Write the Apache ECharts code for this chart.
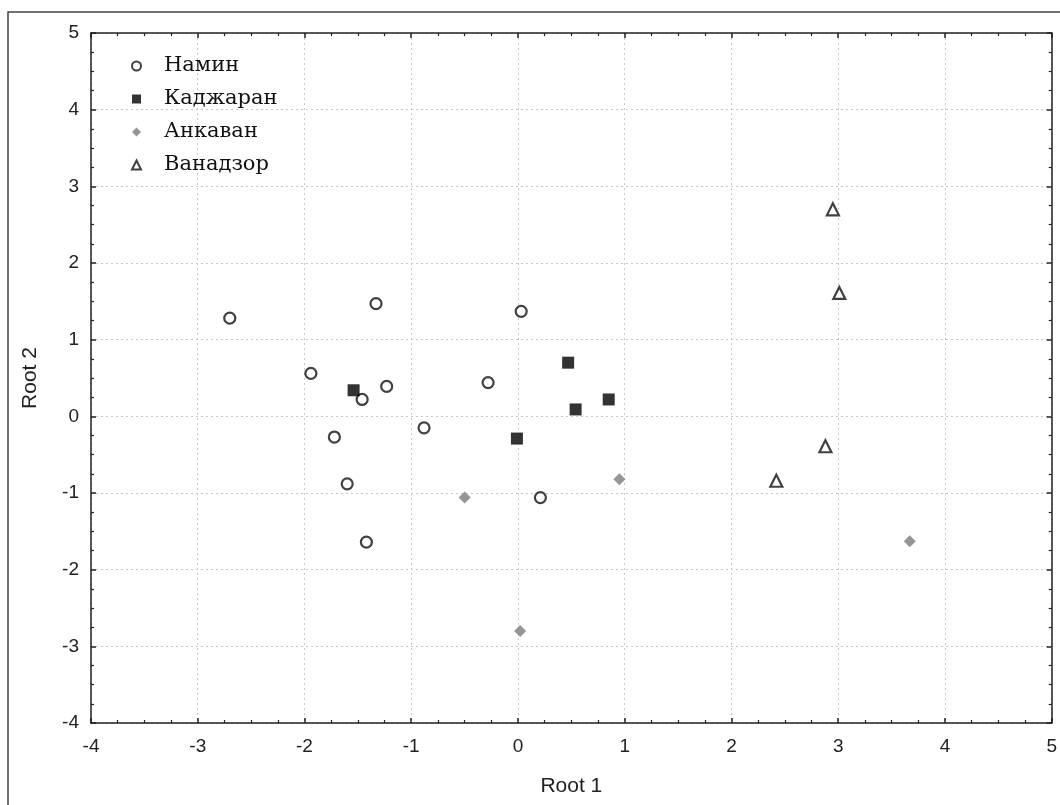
<!DOCTYPE html>
<html>
<head>
<meta charset="utf-8">
<script src="https://cdn.jsdelivr.net/npm/echarts@6/dist/echarts.min.js"></script>
<style>
  html, body { margin: 0; padding: 0; background: #fff; }
  #chart { width: 1060px; height: 805px; }
</style>
</head>
<body>
<div id="chart"></div>
<script>
// Discriminant scores (Root 1, Root 2) by locality
const groupNames = ['Намин', 'Каджаран', 'Анкаван', 'Ванадзор'];

const naminPoints = [
  [-2.70, 1.28], [-1.33, 1.47], [0.03, 1.37], [-1.94, 0.56],
  [-1.23, 0.39], [-1.46, 0.22], [-0.28, 0.44], [-1.72, -0.27],
  [-0.88, -0.15], [-1.60, -0.88], [0.21, -1.06], [-1.42, -1.64]
];
const kadzharanPoints = [
  [-1.54, 0.34], [-0.01, -0.29], [0.47, 0.70], [0.54, 0.09], [0.85, 0.22]
];
const ankavanPoints = [
  [-0.50, -1.06], [0.95, -0.82], [0.02, -2.80], [3.67, -1.63]
];
const vanadzorPoints = [
  [2.95, 2.70], [3.01, 1.61], [2.88, -0.39], [2.42, -0.84]
];

const xTicks = { min: -4, max: 5, step: 1 };
const yTicks = { min: -4, max: 5, step: 1 };

const tickFont = { fontFamily: 'Liberation Sans, Arial, sans-serif', fontSize: 19, color: '#222' };
const nameFont = { fontFamily: 'Liberation Sans, Arial, sans-serif', fontSize: 21, color: '#222' };

function mainAxis(cfg, name, extra) {
  return Object.assign({
    type: 'value',
    min: cfg.min, max: cfg.max, interval: cfg.step,
    name: name,
    nameLocation: 'middle',
    nameTextStyle: nameFont,
    axisLine: { show: true, onZero: false, lineStyle: { color: '#222', width: 1.5 } },
    axisTick: { show: true, inside: true, length: 5, lineStyle: { color: '#222', width: 1.5 } },
    minorTick: { show: true, splitNumber: 4, length: 3, lineStyle: { color: '#222', width: 1.2 } },
    splitLine: { show: true, lineStyle: { color: '#c8c8c8', type: [2, 3], width: 1 } },
    axisLabel: Object.assign({}, tickFont)
  }, extra);
}

function mirrorAxis(cfg, position) {
  return {
    type: 'value', position: position,
    min: cfg.min, max: cfg.max, interval: cfg.step,
    axisLine: { show: true, onZero: false, lineStyle: { color: '#222', width: 1.5 } },
    axisTick: { show: true, inside: true, length: 5, lineStyle: { color: '#222', width: 1.5 } },
    minorTick: { show: true, splitNumber: 4, length: 3, lineStyle: { color: '#222', width: 1.2 } },
    splitLine: { show: false },
    axisLabel: { show: false }
  };
}

const chart = echarts.init(document.getElementById('chart'), null, { renderer: 'canvas' });

chart.setOption({
  backgroundColor: '#fff',
  animation: false,
  graphic: [{
    type: 'rect',
    shape: { x: 8, y: 12, width: 1070, height: 810 },
    style: { fill: 'none', stroke: '#444', lineWidth: 1.5 },
    silent: true, z: -1
  }],
  grid: { left: 91, right: 6, top: 33, bottom: 82 },
  legend: {
    orient: 'vertical',
    left: 131, top: 54,
    padding: 0,
    itemWidth: 9, itemHeight: 9,
    itemGap: 9,
    data: groupNames,
    textStyle: {
      fontFamily: 'DejaVu Serif, serif',
      fontSize: 21, lineHeight: 24, color: '#111',
      padding: [0, 0, 0, 18]
    }
  },
  xAxis: [
    mainAxis(xTicks, 'Root 1', { position: 'bottom', nameGap: 53, axisLabel: Object.assign({ margin: 14 }, tickFont) }),
    mirrorAxis(xTicks, 'top')
  ],
  yAxis: [
    mainAxis(yTicks, 'Root 2', { position: 'left', nameGap: 50, axisLabel: Object.assign({ margin: 12 }, tickFont) }),
    mirrorAxis(yTicks, 'right')
  ],
  series: [
    {
      name: groupNames[0], type: 'scatter', data: naminPoints,
      symbol: 'circle', symbolSize: 11,
      itemStyle: { color: '#fff', borderColor: '#111', borderWidth: 2.2 }
    },
    {
      name: groupNames[1], type: 'scatter', data: kadzharanPoints,
      symbol: 'rect', symbolSize: 12,
      itemStyle: { color: '#000' }
    },
    {
      name: groupNames[2], type: 'scatter', data: ankavanPoints,
      symbol: 'diamond', symbolSize: 12,
      itemStyle: { color: '#7a7a7a' }
    },
    {
      name: groupNames[3], type: 'scatter', data: vanadzorPoints,
      symbol: 'triangle', symbolSize: 12,
      itemStyle: { color: '#fff', borderColor: '#111', borderWidth: 2.2 }
    }
  ]
});
</script>
</body>
</html>
